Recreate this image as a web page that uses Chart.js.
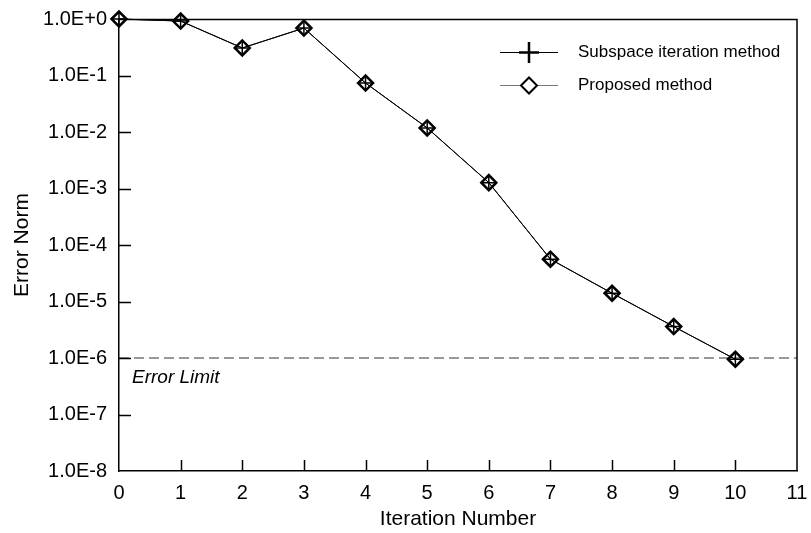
<!DOCTYPE html>
<html>
<head>
<meta charset="utf-8">
<script src="https://cdn.jsdelivr.net/npm/chart.js@4.4.0/dist/chart.umd.min.js"></script>
<style>
  body { margin: 0; background: #fff; }
  #wrap { width: 811px; height: 533px; position: relative; }
</style>
</head>
<body>
<div id="wrap"><canvas id="errChart"></canvas></div>
<script>
// iteration numbers and error norms
const iterations = [0, 1, 2, 3, 4, 5, 6, 7, 8, 9, 10];
const subspaceErr = [1.0, 0.92, 0.307, 0.69, 0.0736, 0.0118, 1.27e-3, 5.6e-5, 1.4e-5, 3.6e-6, 9.5e-7];
const proposedErr = [1.0, 0.92, 0.307, 0.69, 0.0736, 0.0118, 1.27e-3, 5.6e-5, 1.4e-5, 3.6e-6, 9.5e-7];
const limitX = [0, 11];
const limitY = [1e-6, 1e-6];
const yTickExps = [0, -1, -2, -3, -4, -5, -6, -7, -8];
const xTicks = [0, 1, 2, 3, 4, 5, 6, 7, 8, 9, 10, 11];

const FONT = '"Liberation Sans", Arial, sans-serif';

function pts(xs, ys) {
    return xs.map((x, i) => ({ x: x, y: ys[i] }));
}

// tick marks pointing into the plot + top/right frame + error limit label + legend
const decorPlugin = {
    id: "decor",
    afterDraw(chart) {
        const ctx = chart.ctx;
        const a = chart.chartArea;
        const xs = chart.scales.x, ys = chart.scales.y;
        ctx.save();
        ctx.strokeStyle = "#000";
        ctx.lineWidth = 1.5;
        ctx.beginPath();
        ctx.moveTo(a.left, a.top + 0.5);
        ctx.lineTo(a.right, a.top + 0.5);
        ctx.lineTo(a.right, a.bottom);
        ctx.stroke();

        ctx.lineWidth = 1.5;
        ctx.beginPath();
        xTicks.forEach(v => {
            if (v === 0 || v === 11) return;
            const px = Math.round(xs.getPixelForValue(v)) + 0.5;
            ctx.moveTo(px, a.bottom);
            ctx.lineTo(px, a.bottom - 11);
        });
        yTickExps.forEach(e => {
            if (e === 0 || e === -8) return;
            const py = Math.round(ys.getPixelForValue(Number("1e" + e))) + 0.5;
            ctx.moveTo(a.left, py);
            ctx.lineTo(a.left + 12, py);
        });
        ctx.stroke();

        // error limit label
        ctx.fillStyle = "#000";
        ctx.font = "italic 19px " + FONT;
        ctx.textBaseline = "middle";
        ctx.textAlign = "left";
        ctx.fillText("Error Limit", a.left + 13, ys.getPixelForValue(1e-6) + 20);

        // legend
        const lx0 = 500, lx1 = 558, mx = 529;
        ctx.lineWidth = 1;
        ctx.strokeStyle = "#000";
        ctx.beginPath();
        ctx.moveTo(lx0, 52.5); ctx.lineTo(lx1, 52.5);
        ctx.stroke();
        ctx.lineWidth = 2.5;
        ctx.beginPath();
        ctx.moveTo(mx - 10, 52.5); ctx.lineTo(mx + 10, 52.5);
        ctx.moveTo(mx, 42); ctx.lineTo(mx, 63);
        ctx.stroke();

        ctx.lineWidth = 1;
        ctx.strokeStyle = "#777";
        ctx.beginPath();
        ctx.moveTo(lx0, 85.5); ctx.lineTo(lx1, 85.5);
        ctx.stroke();
        ctx.strokeStyle = "#000";
        ctx.fillStyle = "#fff";
        ctx.lineWidth = 2;
        ctx.beginPath();
        ctx.moveTo(mx - 8, 85.5); ctx.lineTo(mx, 77.5); ctx.lineTo(mx + 8, 85.5); ctx.lineTo(mx, 93.5);
        ctx.closePath();
        ctx.fill();
        ctx.stroke();

        ctx.fillStyle = "#000";
        ctx.font = "17px " + FONT;
        ctx.fillText("Subspace iteration method", 578, 52);
        ctx.fillText("Proposed method", 578, 85);
        ctx.restore();
    }
};

const ctx = document.getElementById("errChart").getContext("2d");
new Chart(ctx, {
    type: "line",
    data: {
        datasets: [
            {
                label: "Subspace iteration method",
                data: pts(iterations, subspaceErr),
                borderColor: "#000",
                borderWidth: 1,
                pointStyle: "cross",
                pointRadius: 6,
                pointBorderWidth: 1.5,
                pointBorderColor: "#000",
                fill: false,
                clip: false
            },
            {
                label: "Proposed method",
                data: pts(iterations, proposedErr),
                borderColor: "#000",
                borderWidth: 1,
                pointStyle: "rectRot",
                pointRadius: 7.5,
                pointBorderWidth: 2.5,
                pointBorderColor: "#000",
                pointBackgroundColor: "rgba(0,0,0,0)",
                fill: false,
                clip: false
            },
            {
                label: "Error Limit",
                data: pts(limitX, limitY),
                borderColor: "#333",
                borderWidth: 1,
                borderDash: [10, 5],
                pointRadius: 0,
                fill: false
            }
        ]
    },
    options: {
        responsive: true,
        maintainAspectRatio: false,
        animation: false,
        layout: { padding: { top: 19, right: 14, left: 0, bottom: 0 } },
        plugins: {
            legend: { display: false },
            tooltip: { enabled: false }
        },
        scales: {
            x: {
                type: "linear",
                min: 0,
                max: 11,
                afterBuildTicks: s => { s.ticks = xTicks.map(v => ({ value: v })); },
                afterFit: s => { s.height = 62; },
                grid: { display: false },
                border: { display: true, color: "#000", width: 1.5 },
                ticks: { color: "#000", padding: 2, font: { family: FONT, size: 20 }, maxRotation: 0 },
                title: { display: true, text: "Iteration Number", color: "#000", font: { family: FONT, size: 21 }, padding: { top: 0, bottom: 1 } }
            },
            y: {
                type: "logarithmic",
                min: 1e-8,
                max: 1,
                afterBuildTicks: s => { s.ticks = yTickExps.map(e => ({ value: Number("1e" + e) })); },
                afterFit: s => { s.width = 119; },
                grid: { display: false },
                border: { display: true, color: "#000", width: 1.5 },
                ticks: {
                    color: "#000",
                    padding: 4,
                    font: { family: FONT, size: 20 },
                    callback: function(value) {
                        const exp = Math.round(Math.log10(value));
                        return "1.0E" + (exp >= 0 ? "+" + exp : exp);
                    }
                },
                title: { display: true, text: "Error Norm", color: "#000", font: { family: FONT, size: 21 }, padding: { top: 10, bottom: 0 } }
            }
        }
    },
    plugins: [decorPlugin]
});
</script>
</body>
</html>
